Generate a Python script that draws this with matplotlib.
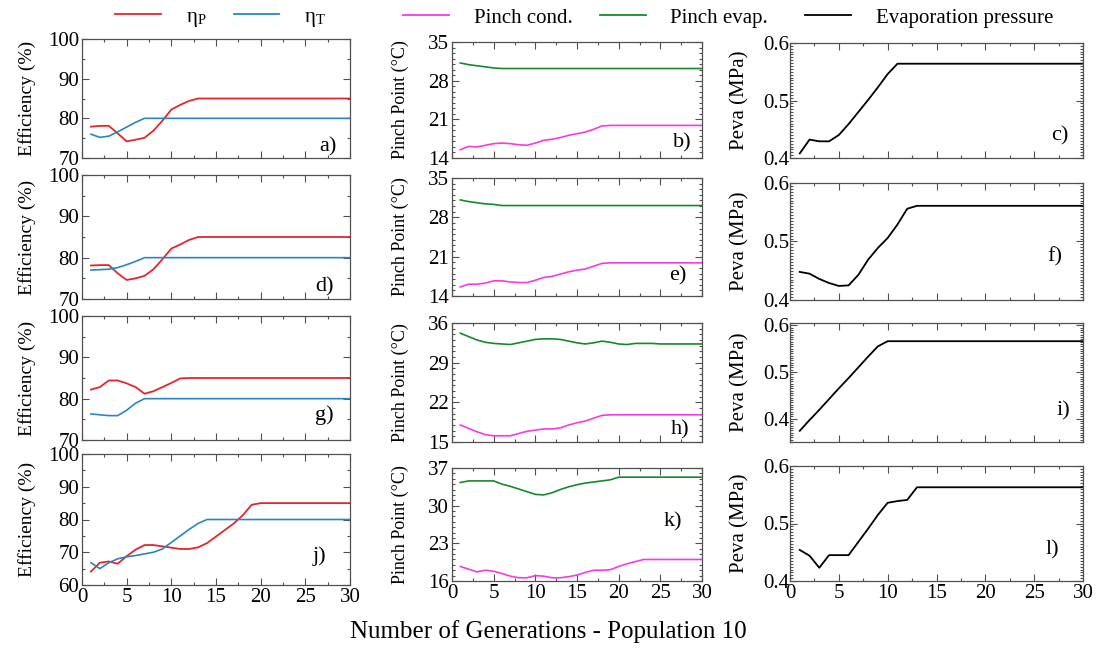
import matplotlib

matplotlib.use("Agg")
import matplotlib.pyplot as plt  # noqa: E402
from matplotlib.lines import Line2D  # noqa: E402
from matplotlib.ticker import MultipleLocator  # noqa: E402

plt.rcParams["font.family"] = ["Liberation Serif", "DejaVu Serif"]
plt.rcParams["mathtext.fontset"] = "stix"

GEN = list(range(1, 31))

# column 1: efficiencies (%)
A_ETA_P = [77.9, 78.1, 78.1, 76.2, 74.2, 74.6, 75.1, 76.9, 79.4, 82.2, 83.4, 84.4, 85.0, 85.0, 85.0,
           85.0, 85.0, 85.0, 85.0, 85.0, 85.0, 85.0, 85.0, 85.0, 85.0, 85.0, 85.0, 85.0, 85.0, 85.0]
A_ETA_T = [76.0, 75.2, 75.5, 76.6, 77.8, 79.0, 80.0, 80.0, 80.0, 80.0, 80.0, 80.0, 80.0, 80.0, 80.0,
           80.0, 80.0, 80.0, 80.0, 80.0, 80.0, 80.0, 80.0, 80.0, 80.0, 80.0, 80.0, 80.0, 80.0, 80.0]
D_ETA_P = [78.1, 78.2, 78.2, 76.2, 74.6, 75.0, 75.6, 77.2, 79.6, 82.2, 83.2, 84.3, 85.0, 85.0, 85.0,
           85.0, 85.0, 85.0, 85.0, 85.0, 85.0, 85.0, 85.0, 85.0, 85.0, 85.0, 85.0, 85.0, 85.0, 85.0]
D_ETA_T = [77.0, 77.1, 77.2, 77.6, 78.3, 79.1, 80.0, 80.0, 80.0, 80.0, 80.0, 80.0, 80.0, 80.0, 80.0,
           80.0, 80.0, 80.0, 80.0, 80.0, 80.0, 80.0, 80.0, 80.0, 80.0, 80.0, 80.0, 80.0, 80.0, 80.0]
G_ETA_P = [82.2, 82.8, 84.4, 84.4, 83.7, 82.8, 81.2, 81.8, 82.8, 83.8, 84.9, 85.0, 85.0, 85.0, 85.0,
           85.0, 85.0, 85.0, 85.0, 85.0, 85.0, 85.0, 85.0, 85.0, 85.0, 85.0, 85.0, 85.0, 85.0, 85.0]
G_ETA_T = [76.3, 76.1, 75.9, 75.9, 77.2, 78.9, 80.0, 80.0, 80.0, 80.0, 80.0, 80.0, 80.0, 80.0, 80.0,
           80.0, 80.0, 80.0, 80.0, 80.0, 80.0, 80.0, 80.0, 80.0, 80.0, 80.0, 80.0, 80.0, 80.0, 80.0]
J_ETA_P = [64.1, 66.8, 67.2, 66.5, 68.8, 70.8, 72.2, 72.2, 71.8, 71.4, 71.0, 71.0, 71.5, 72.8, 74.8,
           76.8, 78.8, 81.3, 84.5, 85.0, 85.0, 85.0, 85.0, 85.0, 85.0, 85.0, 85.0, 85.0, 85.0, 85.0]
J_ETA_T = [66.8, 65.0, 66.8, 68.0, 68.6, 69.0, 69.5, 70.0, 71.0, 73.0, 75.0, 77.0, 78.8, 80.0, 80.0,
           80.0, 80.0, 80.0, 80.0, 80.0, 80.0, 80.0, 80.0, 80.0, 80.0, 80.0, 80.0, 80.0, 80.0, 80.0]

# column 2: pinch points (degC)
B_COND = [15.5, 16.1, 16.0, 16.3, 16.6, 16.7, 16.6, 16.4, 16.3, 16.7, 17.2, 17.4, 17.7, 18.1, 18.4,
          18.7, 19.2, 19.8, 19.9, 19.9, 19.9, 19.9, 19.9, 19.9, 19.9, 19.9, 19.9, 19.9, 19.9, 19.9]
B_EVAP = [31.2, 30.9, 30.7, 30.5, 30.3, 30.2, 30.2, 30.2, 30.2, 30.2, 30.2, 30.2, 30.2, 30.2, 30.2,
          30.2, 30.2, 30.2, 30.2, 30.2, 30.2, 30.2, 30.2, 30.2, 30.2, 30.2, 30.2, 30.2, 30.2, 30.2]
E_COND = [15.6, 16.1, 16.1, 16.3, 16.7, 16.7, 16.5, 16.4, 16.4, 16.8, 17.3, 17.5, 17.9, 18.3, 18.6,
          18.8, 19.3, 19.8, 19.9, 19.9, 19.9, 19.9, 19.9, 19.9, 19.9, 19.9, 19.9, 19.9, 19.9, 19.9]
E_EVAP = [31.1, 30.8, 30.6, 30.4, 30.3, 30.1, 30.1, 30.1, 30.1, 30.1, 30.1, 30.1, 30.1, 30.1, 30.1,
          30.1, 30.1, 30.1, 30.1, 30.1, 30.1, 30.1, 30.1, 30.1, 30.1, 30.1, 30.1, 30.1, 30.1, 30.1]
H_COND = [18.0, 17.4, 16.8, 16.3, 16.1, 16.1, 16.1, 16.5, 16.9, 17.1, 17.3, 17.3, 17.5, 18.0, 18.4,
          18.7, 19.2, 19.7, 19.8, 19.8, 19.8, 19.8, 19.8, 19.8, 19.8, 19.8, 19.8, 19.8, 19.8, 19.8]
H_EVAP = [34.2, 33.6, 33.0, 32.6, 32.4, 32.3, 32.2, 32.5, 32.8, 33.1, 33.2, 33.2, 33.1, 32.8, 32.5,
          32.3, 32.5, 32.8, 32.6, 32.3, 32.2, 32.4, 32.4, 32.4, 32.3, 32.3, 32.3, 32.3, 32.3, 32.3]
K_COND = [18.7, 18.2, 17.7, 18.0, 17.8, 17.4, 16.9, 16.6, 16.6, 17.0, 16.9, 16.6, 16.6, 16.8, 17.1,
          17.6, 18.0, 18.0, 18.1, 18.7, 19.2, 19.6, 20.0, 20.0, 20.0, 20.0, 20.0, 20.0, 20.0, 20.0]
K_EVAP = [34.3, 34.6, 34.6, 34.6, 34.6, 34.0, 33.6, 33.1, 32.6, 32.1, 32.0, 32.4, 33.0, 33.5, 33.9,
          34.2, 34.4, 34.6, 34.8, 35.3, 35.3, 35.3, 35.3, 35.3, 35.3, 35.3, 35.3, 35.3, 35.3, 35.3]

# column 3: evaporation pressure (MPa)
C_PEVA = [0.408, 0.432, 0.429, 0.429, 0.440, 0.459, 0.480, 0.501, 0.523, 0.546, 0.564, 0.564, 0.564,
          0.564, 0.564, 0.564, 0.564, 0.564, 0.564, 0.564, 0.564, 0.564, 0.564, 0.564, 0.564, 0.564,
          0.564, 0.564, 0.564, 0.564]
F_PEVA = [0.448, 0.445, 0.436, 0.429, 0.424, 0.425, 0.443, 0.469, 0.489, 0.506, 0.529, 0.556, 0.561,
          0.561, 0.561, 0.561, 0.561, 0.561, 0.561, 0.561, 0.561, 0.561, 0.561, 0.561, 0.561, 0.561,
          0.561, 0.561, 0.561, 0.561]
I_PEVA = [0.374, 0.397, 0.419, 0.442, 0.465, 0.487, 0.510, 0.533, 0.555, 0.566, 0.566, 0.566, 0.566,
          0.566, 0.566, 0.566, 0.566, 0.566, 0.566, 0.566, 0.566, 0.566, 0.566, 0.566, 0.566, 0.566,
          0.566, 0.566, 0.566, 0.566]
L_PEVA = [0.454, 0.444, 0.423, 0.445, 0.445, 0.445, 0.468, 0.491, 0.515, 0.536, 0.539, 0.541, 0.563,
          0.563, 0.563, 0.563, 0.563, 0.563, 0.563, 0.563, 0.563, 0.563, 0.563, 0.563, 0.563, 0.563,
          0.563, 0.563, 0.563, 0.563]

PANEL_LABELS = [["a)", "d)", "g)", "j)"], ["b)", "e)", "h)", "k)"], ["c)", "f)", "i)", "l)"]]
EFF_LIMS = [(70, 100), (70, 100), (70, 100), (60, 100)]
PINCH_TICKS = [[14, 21, 28, 35], [14, 21, 28, 35], [15, 22, 29, 36], [16, 23, 30, 37]]
PEVA_LIMS = [(0.4, 0.6), (0.4, 0.6), (0.35, 0.605), (0.4, 0.6)]

RED, BLUE = "#e3262c", "#2a86bf"
MAGENTA, GREEN = "#f43ce3", "#17882c"
SPINE = "#505050"

W, H = 1096, 650
# pixel boxes (left, right, [(top, bottom) per row]) for each column
COLS = [
    (82, 350, [(39, 158), (175, 299), (316, 440), (454, 585)]),
    (452, 702, [(42, 158), (178, 296), (323, 442), (468, 581)]),
    (790, 1083, [(43, 158), (183, 300), (323, 442), (466, 581)]),
]
LABEL_POS = [
    [(0.95, 0.09), (0.94, 0.10), (0.94, 0.20), (0.91, 0.22)],
    [(0.96, 0.13), (0.94, 0.17), (0.95, 0.10), (0.92, 0.52)],
    [(0.95, 0.19), (0.93, 0.37), (0.955, 0.26), (0.92, 0.27)],
]


def rect(left, right, top, bottom):
    return [left / W, 1 - bottom / H, (right - left) / W, (bottom - top) / H]


def style(ax, last):
    ax.set_xlim(0, 30)
    ax.xaxis.set_major_locator(MultipleLocator(5))
    ax.xaxis.set_minor_locator(MultipleLocator(2.5))
    ax.tick_params(which="both", direction="in", top=True, right=True, color=SPINE, width=0.8)
    ax.tick_params(which="major", length=5, labelsize=15, pad=2)
    ax.tick_params(which="minor", length=2.5)
    for s in ax.spines.values():
        s.set_color(SPINE)
        s.set_linewidth(0.9)
    if not last:
        ax.tick_params(labelbottom=False)


fig = plt.figure(figsize=(W / 100, H / 100), dpi=100)

eff = [(A_ETA_P, A_ETA_T), (D_ETA_P, D_ETA_T), (G_ETA_P, G_ETA_T), (J_ETA_P, J_ETA_T)]
pinch = [(B_COND, B_EVAP), (E_COND, E_EVAP), (H_COND, H_EVAP), (K_COND, K_EVAP)]
peva = [C_PEVA, F_PEVA, I_PEVA, L_PEVA]

for r in range(4):
    last = r == 3
    # efficiency
    left, right, rows = COLS[0]
    ax = fig.add_axes(rect(left, right, *rows[r]))
    ax.plot(GEN, eff[r][0], color=RED, lw=1.3)
    ax.plot(GEN, eff[r][1], color=BLUE, lw=1.2)
    ax.set_ylim(*EFF_LIMS[r])
    ax.yaxis.set_major_locator(MultipleLocator(10))
    ax.yaxis.set_minor_locator(MultipleLocator(5))
    style(ax, last)
    ax.set_ylabel("Efficiency (%)", fontsize=14, labelpad=9)
    ax.text(*LABEL_POS[0][r], PANEL_LABELS[0][r], transform=ax.transAxes, ha="right", va="center", fontsize=16)

    # pinch points
    left, right, rows = COLS[1]
    ax = fig.add_axes(rect(left, right, *rows[r]))
    ax.plot(GEN, pinch[r][0], color=MAGENTA, lw=1.2)
    ax.plot(GEN, pinch[r][1], color=GREEN, lw=1.2)
    ticks = PINCH_TICKS[r]
    ax.set_ylim(ticks[0], ticks[-1])
    ax.set_yticks(ticks)
    ax.yaxis.set_minor_locator(MultipleLocator(1))
    style(ax, last)
    ax.set_ylabel("Pinch Point (°C)", fontsize=13, labelpad=14)
    ax.text(*LABEL_POS[1][r], PANEL_LABELS[1][r], transform=ax.transAxes, ha="right", va="center", fontsize=16)

    # evaporation pressure
    left, right, rows = COLS[2]
    ax = fig.add_axes(rect(left, right, *rows[r]))
    ax.plot(GEN, peva[r], color="black", lw=1.3)
    ax.set_ylim(*PEVA_LIMS[r])
    ax.set_yticks([0.4, 0.5, 0.6])
    ax.yaxis.set_minor_locator(MultipleLocator(0.005))
    style(ax, last)
    ax.tick_params(axis="y", which="major", pad=0.5)
    ax.tick_params(axis="y", which="minor", length=2)
    ax.set_ylabel("Peva (MPa)", fontsize=15, labelpad=10)
    ax.text(*LABEL_POS[2][r], PANEL_LABELS[2][r], transform=ax.transAxes, ha="right", va="center", fontsize=16)

legend_kw = dict(frameon=False, fontsize=15, handlelength=2.2, handletextpad=1.2, columnspacing=1.3,
                 borderaxespad=0, borderpad=0, loc="center left")
h1 = [Line2D([], [], color=RED, lw=1.3), Line2D([], [], color=BLUE, lw=1.3)]
fig.legend(h1, ["η$_\\mathregular{P}$", "η$_\\mathregular{T}$"], ncol=2,
           bbox_to_anchor=(115 / W, 1 - 18 / H), **legend_kw)
h2 = [Line2D([], [], color=MAGENTA, lw=1.3), Line2D([], [], color=GREEN, lw=1.3)]
fig.legend(h2, ["Pinch cond.", "Pinch evap."], ncol=2,
           bbox_to_anchor=(403 / W, 1 - 18 / H), **legend_kw)
h3 = [Line2D([], [], color="black", lw=1.3)]
fig.legend(h3, ["Evaporation pressure"], bbox_to_anchor=(805 / W, 1 - 18 / H), **legend_kw)

fig.text(548 / W, 1 - 632 / H, "Number of Generations - Population 10", ha="center", va="center", fontsize=18)

fig.savefig("out.png", dpi=100)
